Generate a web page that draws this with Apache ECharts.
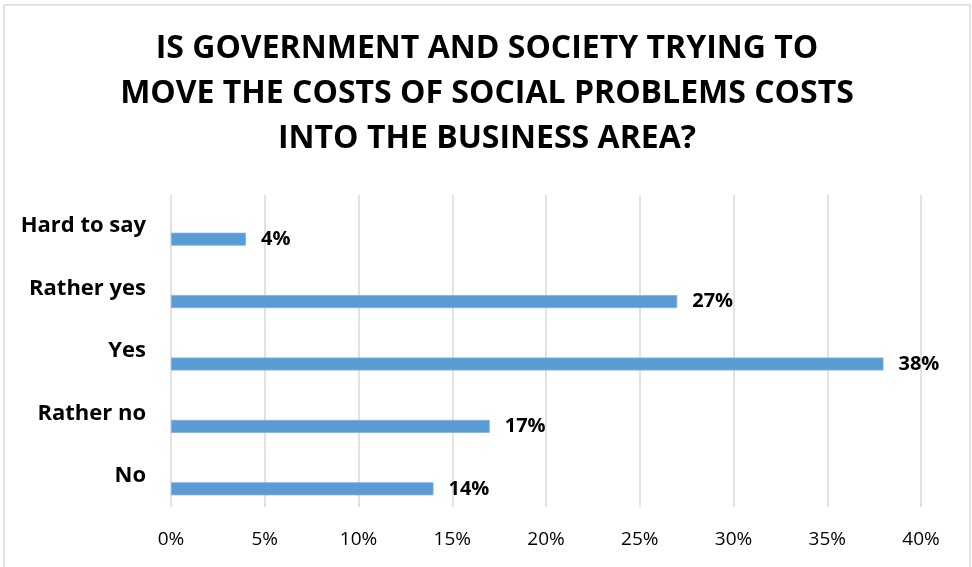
<!DOCTYPE html>
<html>
<head>
<meta charset="utf-8">
<script src="https://cdn.jsdelivr.net/npm/echarts@6/dist/echarts.min.js"></script>
<style>
  html, body { margin: 0; padding: 0; background: #fff; }
  #chart { width: 972px; height: 567px; }
</style>
</head>
<body>
<div id="chart"></div>
<script>
// Survey answers, listed bottom to top
const categories = ['No', 'Rather no', 'Yes', 'Rather yes', 'Hard to say'];
const shares = [14, 17, 38, 27, 4];
const titleLines = [
  'IS GOVERNMENT AND SOCIETY TRYING TO',
  'MOVE THE COSTS OF SOCIAL PROBLEMS COSTS',
  'INTO THE BUSINESS AREA?'
];

const FONT = '"Open Sans"';
const chart = echarts.init(document.getElementById('chart'));

// frame around the chart area plus one centred text element per title line
const graphics = [{
  type: 'rect',
  shape: { x: 4, y: 5, width: 966, height: 600 },
  style: { fill: 'none', stroke: '#d9d9d9', lineWidth: 1.5 },
  silent: true
}];
titleLines.forEach((line, i) => {
  graphics.push({
    type: 'text',
    x: 487,
    y: 49 + i * 45,
    silent: true,
    style: {
      text: line,
      textAlign: 'center',
      textVerticalAlign: 'middle',
      fontFamily: FONT,
      fontSize: 32,
      fontWeight: 'bold',
      fill: '#000'
    }
  });
});

chart.setOption({
  animation: false,
  textStyle: { fontFamily: FONT },
  graphic: graphics,
  grid: { left: 171, right: 51, top: 195, bottom: 60 },
  xAxis: {
    type: 'value',
    min: 0,
    max: 40,
    interval: 5,
    axisLine: { show: false },
    axisTick: { show: false },
    axisLabel: {
      formatter: '{value}%',
      fontFamily: FONT,
      fontSize: 19,
      color: '#000',
      margin: 23
    },
    splitLine: { lineStyle: { color: '#d9d9d9', width: 1.5 } }
  },
  yAxis: {
    type: 'category',
    data: categories,
    axisLine: { show: false },
    axisTick: { show: false },
    axisLabel: {
      fontFamily: FONT,
      fontSize: 22,
      fontWeight: 'bold',
      color: '#000',
      margin: 25
    }
  },
  series: [
    {
      // empty companion series: keeps the visible bar in the lower half of each band
      type: 'bar',
      data: categories.map(() => '-'),
      barWidth: 13,
      barGap: '100%',
      silent: true
    },
    {
      type: 'bar',
      data: shares,
      barWidth: 13,
      barGap: '100%',
      itemStyle: { color: '#5b9bd5', borderColor: '#7fb1e0', borderWidth: 0.8 },
      label: {
        show: true,
        position: 'right',
        distance: 15,
        formatter: p => p.value + '%',
        fontFamily: FONT,
        fontSize: 20,
        fontWeight: 'bold',
        color: '#000'
      }
    }
  ]
});
</script>
</body>
</html>
